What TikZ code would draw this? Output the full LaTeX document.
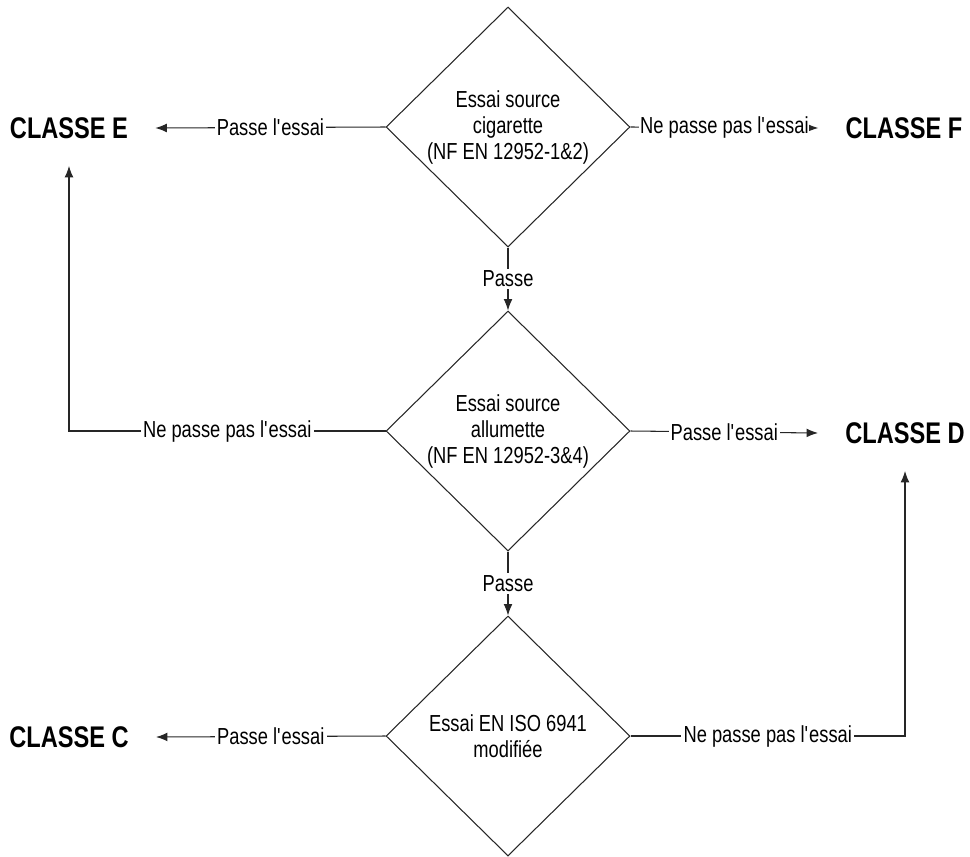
\documentclass[tikz,border=0pt]{standalone}
\usepackage{fontspec}
\setmainfont{Liberation Sans}[FakeStretch=0.79]
\usetikzlibrary{shapes.geometric,arrows.meta}
\newcommand{\apos}{\textquotesingle}

\begin{document}
\begin{tikzpicture}[x=0.02cm, y=-0.02cm,
		essai/.style={draw=black!85, line width=0.6pt, shape=diamond, minimum width=4.88cm, minimum height=4.8cm, inner sep=0pt, align=center, font=\fontsize{13.2}{14.8}\selectfont},
		classe/.style={inner xsep=0.54cm, inner ysep=0.54cm, font=\fontsize{17}{19}\selectfont\bfseries},
		fleche/.style={draw=black!85, line width=0.6pt, -{Latex[length=6.5pt, width=5pt]}},
		verdict/.style={fill=white, inner sep=1.2pt, font=\fontsize{13.2}{15}\selectfont}]
			%%%%% START %%%%%
			
			\useasboundingbox (0, 0) rectangle (970, 856);
			
			% les trois essais
			\node[essai] (d1) at (508, 127) {Essai source\\cigarette\\(NF EN 12952-1\&2)};
			\node[essai] (d2) at (508, 431) {Essai source\\allumette\\(NF EN 12952-3\&4)};
			\node[essai] (d3) at (508, 736) {Essai EN ISO 6941\\modifiée};
			
			% les classes
			\node[classe] (cE) at (69, 128) {CLASSE E};
			\node[classe] (cF) at (904, 128) {CLASSE F};
			\node[classe] (cD) at (905, 433) {CLASSE D};
			\node[classe] (cC) at (69, 737) {CLASSE C};
			
			\draw[fleche] (d1.west) -- node[verdict] {Passe l\apos essai} (cE.east);
			\draw[fleche] (d1.east) -- node[verdict, inner xsep=0.5pt] {Ne passe pas l\apos essai} (cF.west);
			\draw[fleche] (d1.south) -- node[verdict] {Passe} (d2.north);
			
			\draw[fleche] (d2.west) -| node[verdict, pos=0.25] {Ne passe pas l\apos essai} (cE.south);
			\draw[fleche] (d2.east) -- node[verdict] {Passe l\apos essai} (cD.west);
			\draw[fleche] (d2.south) -- node[verdict] {Passe} (d3.north);
			
			\draw[fleche] (d3.west) -- node[verdict] {Passe l\apos essai} (cC.east);
			\draw[fleche] (d3.east) -| node[verdict, pos=0.25] {Ne passe pas l\apos essai} (cD.south);
			
			%%%%% END %%%%%
\end{tikzpicture}
\end{document}
